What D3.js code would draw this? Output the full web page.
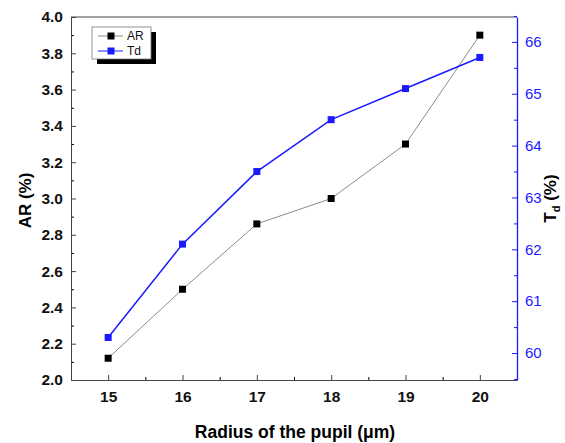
<!DOCTYPE html>
<html>
<head>
<meta charset="utf-8">
<script src="https://cdn.jsdelivr.net/npm/d3@7"></script>
<style>
  body { margin: 0; background: #fff; }
  text { font-family: Arial, "Liberation Sans", sans-serif; }
</style>
</head>
<body>
<svg id="chart" width="565" height="443"></svg>
<script>
var radius = [15, 16, 17, 18, 19, 20];
var arValues = [2.12, 2.5, 2.86, 3.0, 3.3, 3.9];
var tdValues = [60.3, 62.1, 63.5, 64.5, 65.1, 65.7];
var xTicks = [15, 16, 17, 18, 19, 20];
var leftTicks = [2.0, 2.2, 2.4, 2.6, 2.8, 3.0, 3.2, 3.4, 3.6, 3.8, 4.0];
var rightTicks = [60, 61, 62, 63, 64, 65, 66];

var svg = d3.select('#chart'),
  margin = {left: 71, right: 48, top: 17, bottom: 63},
  width = +svg.attr('width') - margin.left - margin.right,
  height = +svg.attr('height') - margin.top - margin.bottom,
  g = svg.append('g').attr('transform', 'translate(' + margin.left + ',' + margin.top + ')');

var blue = '#1a1aff';

var x = d3.scaleLinear().domain([14.5, 20.5]).range([0, width]);
var yL = d3.scaleLinear().domain([2.0, 4.0]).range([height, 0]);
var yR = d3.scaleLinear().domain([59.48, 66.48]).range([height, 0]);

// frame top line
g.append('line').attr('x1', 0).attr('x2', width).attr('y1', 0).attr('y2', 0)
  .attr('stroke', '#444').attr('stroke-width', 1);

// minor ticks
function minor(axis, vals) {
  return axis.tickValues(vals).tickSize(-3).tickFormat('');
}
g.append('g').attr('transform', 'translate(0,' + height + ')')
  .call(minor(d3.axisBottom(x), d3.range(14.5, 20.51, 1)))
  .call(a => a.select('.domain').remove());
g.append('g')
  .call(minor(d3.axisLeft(yL), d3.range(2.1, 4.0, 0.2)))
  .call(a => a.select('.domain').remove());
g.append('g').attr('transform', 'translate(' + width + ',0)')
  .call(minor(d3.axisRight(yR), d3.range(59.5, 66.6, 1)))
  .call(a => a.select('.domain').remove())
  .selectAll('line').attr('stroke', blue);

// x axis
var xAxis = g.append('g').attr('transform', 'translate(0,' + height + ')')
  .call(d3.axisBottom(x).tickValues(xTicks).tickSize(-5).tickSizeOuter(0).tickPadding(11).tickFormat(d3.format('d')));
xAxis.select('.domain').attr('stroke', '#444');
xAxis.selectAll('line').attr('stroke', '#444');
xAxis.selectAll('text').attr('font-size', 15.5).attr('font-weight', 'bold').attr('fill', '#111');

// left axis
var lAxis = g.append('g')
  .call(d3.axisLeft(yL).tickValues(leftTicks).tickSize(-5).tickSizeOuter(0).tickPadding(8).tickFormat(d3.format('.1f')));
lAxis.select('.domain').attr('stroke', '#444');
lAxis.selectAll('line').attr('stroke', '#444');
lAxis.selectAll('text').attr('font-size', 15.5).attr('font-weight', 'bold').attr('fill', '#111');

// right axis
var rAxis = g.append('g').attr('transform', 'translate(' + width + ',0)')
  .call(d3.axisRight(yR).tickValues(rightTicks).tickSize(-5).tickSizeOuter(0).tickPadding(8).tickFormat(d3.format('d')));
rAxis.select('.domain').attr('stroke', blue).attr('stroke-width', 1.3);
rAxis.selectAll('line').attr('stroke', blue);
rAxis.selectAll('text').attr('font-size', 15).attr('fill', blue);

// series
var arData = radius.map((r, i) => ({x: r, y: arValues[i]}));
var tdData = radius.map((r, i) => ({x: r, y: tdValues[i]}));

g.append('path').datum(arData)
  .attr('fill', 'none').attr('stroke', '#8c8c8c').attr('stroke-width', 1)
  .attr('d', d3.line().x(d => x(d.x)).y(d => yL(d.y)));
g.append('path').datum(tdData)
  .attr('fill', 'none').attr('stroke', blue).attr('stroke-width', 1.5)
  .attr('d', d3.line().x(d => x(d.x)).y(d => yR(d.y)));

g.selectAll('.ar').data(arData).enter().append('rect')
  .attr('x', d => x(d.x) - 3.5).attr('y', d => yL(d.y) - 3.5)
  .attr('width', 7).attr('height', 7).attr('fill', '#000');
g.selectAll('.td').data(tdData).enter().append('rect')
  .attr('x', d => x(d.x) - 3.5).attr('y', d => yR(d.y) - 3.5)
  .attr('width', 7).attr('height', 7).attr('fill', blue);

// axis titles
svg.append('text')
  .attr('transform', 'translate(31,' + (margin.top + height / 2 + 2) + ') rotate(-90)')
  .attr('text-anchor', 'middle').attr('font-size', 17).attr('font-weight', 'bold')
  .text('AR (%)');

var rt = svg.append('text')
  .attr('transform', 'translate(556,' + (margin.top + height / 2) + ') rotate(-90)')
  .attr('text-anchor', 'middle').attr('font-size', 17).attr('font-weight', 'bold');
rt.append('tspan').text('T');
rt.append('tspan').attr('font-size', 11).attr('dy', 4).text('d');
rt.append('tspan').attr('dy', -4).text(' (%)');

svg.append('text')
  .attr('x', margin.left + width / 2 + 1).attr('y', 438)
  .attr('text-anchor', 'middle').attr('font-size', 17.5).attr('font-weight', 'bold')
  .text('Radius of the pupil (\u03bcm)');

// legend
var lg = svg.append('g').attr('transform', 'translate(92,27)');
lg.append('rect').attr('x', 5).attr('y', 5).attr('width', 59).attr('height', 32).attr('fill', '#000');
lg.append('rect').attr('x', 0).attr('y', 0).attr('width', 59).attr('height', 32)
  .attr('fill', '#fff').attr('stroke', '#777').attr('stroke-width', 0.8);
var items = [{name: 'AR', color: '#000', line: '#8c8c8c'}, {name: 'Td', color: blue, line: blue}];
items.forEach((it, i) => {
  var yy = 9 + i * 15;
  lg.append('line').attr('x1', 6).attr('x2', 31).attr('y1', yy).attr('y2', yy)
    .attr('stroke', it.line).attr('stroke-width', 1);
  lg.append('rect').attr('x', 15.5).attr('y', yy - 3.5).attr('width', 7).attr('height', 7).attr('fill', it.color);
  lg.append('text').attr('x', 35).attr('y', yy + 4).attr('font-size', 12).attr('fill', '#111').text(it.name);
});
</script>
</body>
</html>
